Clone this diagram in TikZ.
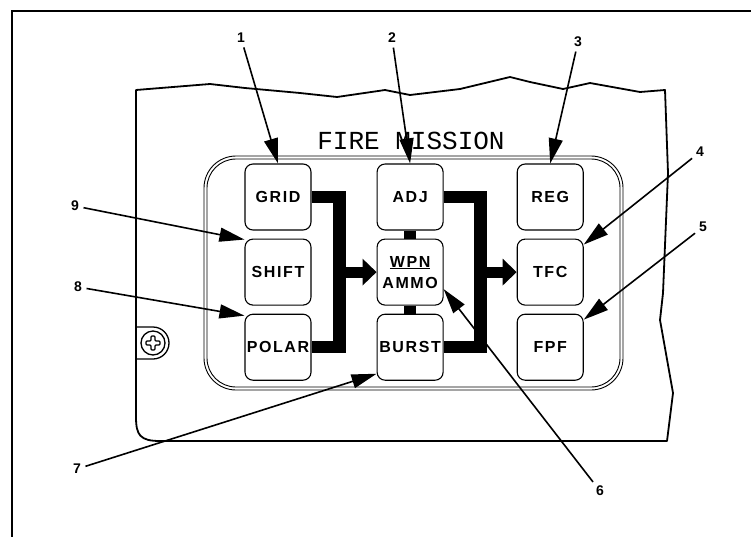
\documentclass[tikz,border=0pt]{standalone}
\usepackage{fontspec}
\usetikzlibrary{arrows.meta,positioning,calc}
\newfontfamily\keyfont[LetterSpace=10]{Liberation Sans}
\newfontfamily\numfont{Liberation Sans}
\newfontfamily\platefont{Liberation Mono}
\tikzset{
  key/.style={draw,line width=1.1pt,rounded corners=8pt,minimum width=66pt,minimum height=66pt,inner sep=0pt,align=center,font=\keyfont\bfseries\fontsize{16}{21}\selectfont},
  num/.style={inner sep=1.5pt,font=\numfont\bfseries\fontsize{14}{14}\selectfont},
  lead/.style={-{Triangle[length=25pt,width=14pt]},line width=1.6pt,shorten <=3pt},
  bar/.style={line width=12.5pt},
  fat/.style={-{Triangle[length=14pt,width=26pt]},line width=11pt},
  housing/.style={line width=1.8pt,line join=round}
}
\begin{document}
\begin{tikzpicture}[x=1pt,y=-1pt]
  \useasboundingbox (0,0) rectangle (751,536);
  \draw[line width=2pt] (12,11) rectangle (753,538);
  % housing
  \draw[housing] (136,417) -- (136,90) -- (210,84) -- (245,88) -- (300,93) -- (337,97) -- (385,90) -- (410,95) -- (460,89) -- (510,77) -- (530,82) -- (563,89) -- (590,83) -- (640,92) -- (665,90) -- (668,173) -- (663,293) -- (660,320) -- (673,393) -- (667,441) -- (160,441) .. controls (140,441) and (136,435) .. (136,417);
  \draw[line width=1.3pt] (136,327) -- (153,327) arc[start angle=-90,end angle=90,radius=16] -- (136,359);
  \draw[line width=1.3pt] (153,343) circle[radius=12];
  \draw[line width=1.1pt,rounded corners=1pt,shift={(153,343)}] (-2,-7) -- (2,-7) -- (2,-2) -- (7,-2) -- (7,2) -- (2,2) -- (2,7) -- (-2,7) -- (-2,2) -- (-7,2) -- (-7,-2) -- (-2,-2) -- cycle;
  % bezel
  \draw[line width=0.9pt,rounded corners=32pt] (204,156) rectangle (623,390);
  \draw[line width=0.9pt,rounded corners=29pt] (207,159) rectangle (620,387);
  \node[font=\platefont\fontsize{26}{26}\selectfont] (title) at (411,141) {FIRE MISSION};
  % keys
  \node[key] (grid) at (278,197) {GRID};
  \node[key,below=8pt of grid] (shift) {SHIFT};
  \node[key,below=8pt of shift] (polar) {POLAR};
  \node[key,right=65pt of grid] (adj) {ADJ};
  \node[key,below=8pt of adj] (wpn) {\underline{WPN}\\AMMO};
  \node[key,below=8pt of wpn] (burst) {BURST};
  \node[key,right=73pt of adj] (reg) {REG};
  \node[key,below=8pt of reg] (tfc) {TFC};
  \node[key,below=8pt of tfc] (fpf) {FPF};
  % flow bars
  \draw[bar] (grid.east) -- ++(28,0) coordinate (lsplit) |- (polar.east);
  \draw[fat] (lsplit |- wpn.west) -- (wpn.west);
  \draw[bar] (adj.east) -- ++(37,0) coordinate (rsplit) |- (burst.east);
  \draw[fat] (rsplit |- tfc.west) -- (tfc.west);
  \draw[bar] (adj) -- (wpn);
  \draw[bar] (wpn) -- (burst);
  % callouts
  \node[num] (n1) at (241,38) {1};
  \node[num] (n2) at (392,38) {2};
  \node[num] (n3) at (578,42) {3};
  \node[num] (n4) at (700,152) {4};
  \node[num] (n5) at (703,227) {5};
  \node[num] (n6) at (600,491) {6};
  \node[num] (n7) at (77,469) {7};
  \node[num] (n8) at (78,287) {8};
  \node[num] (n9) at (75,206) {9};
  \draw[lead] (n1) -- (grid.north);
  \draw[lead] (n2) -- (adj.north);
  \draw[lead] (n3) -- (reg.north);
  \draw[lead] (n4) -- ([yshift=-6pt]tfc.north east);
  \draw[lead] (n5) -- ([yshift=-6pt]fpf.north east);
  \draw[lead] (n6) -- ([yshift=-17pt]wpn.east);
  \draw[lead] (n7) -- ([yshift=7pt]burst.south west);
  \draw[lead] (n8) -- ([yshift=-2pt]polar.north west);
  \draw[lead] (n9) -- ([yshift=-1pt]shift.north west);
\end{tikzpicture}
\end{document}
